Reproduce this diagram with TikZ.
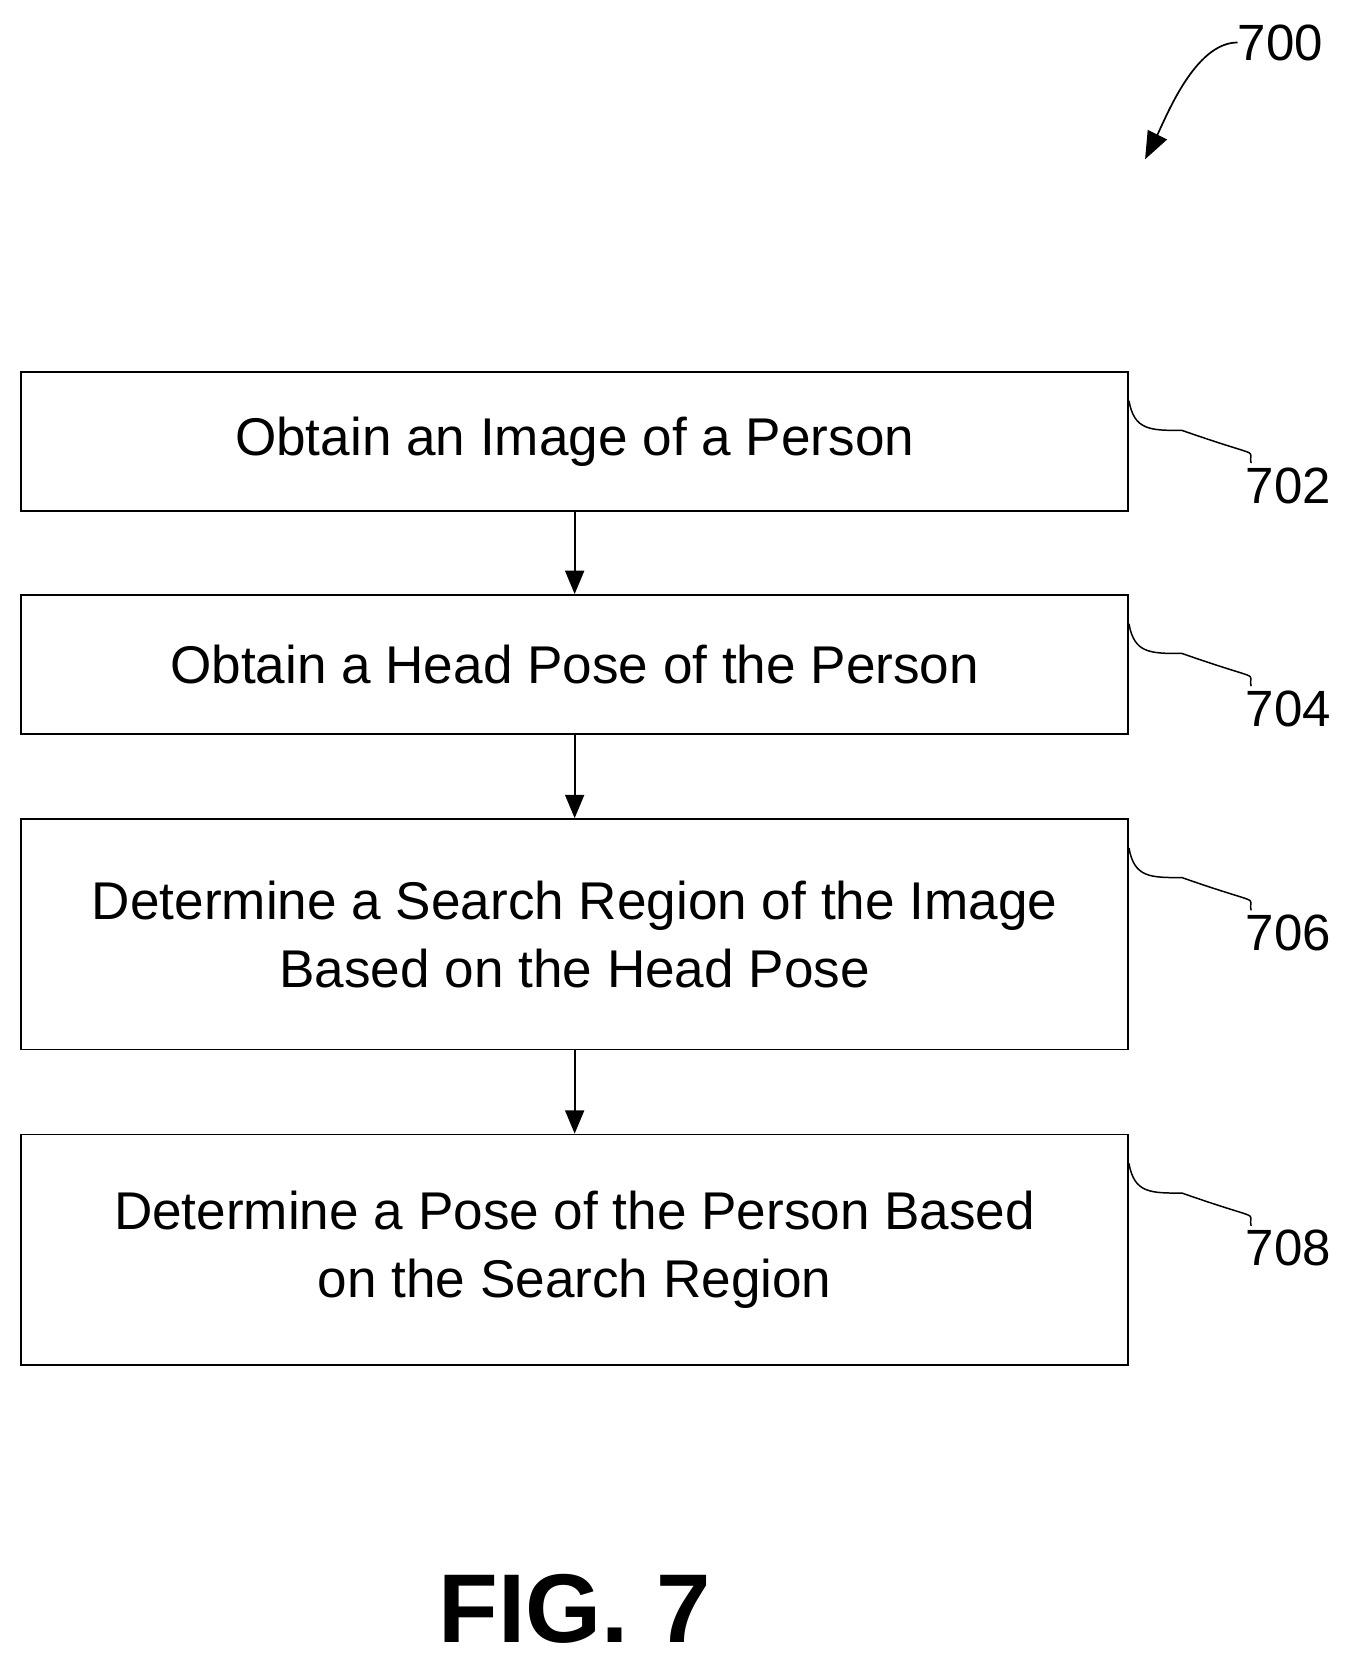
\documentclass[tikz,border=0pt]{standalone}
\usepackage{fontspec}
\setmainfont{Liberation Sans}
\usetikzlibrary{arrows.meta,positioning}
\tikzset{
  x=1pt, y=1pt,
  stepbox/.style = {
    draw,
    line width=1.6pt,
    minimum width=1042pt,
    align=center,
    font=\fontsize{50}{64}\selectfont
  },
  ref label/.style = {
    font=\fontsize{48}{52}\selectfont,
    inner sep=0pt
  },
  flow arrow/.style = {
    -{Triangle[length=22pt,width=18pt]},
    line width=1.6pt
  },
  squiggle/.style = {
    line width=1.4pt
  },
}
\begin{document}
\begin{tikzpicture}
  \useasboundingbox (0,0) rectangle (1280,-1575);
  %% boxes
  \node (b702) [stepbox, minimum height=131pt] at (541,-415.5) {Obtain an Image of a Person};
  \node (b704) [stepbox, minimum height=131pt] at (541,-625.5) {Obtain a Head Pose of the Person};
  \node (b706) [stepbox, minimum height=217pt] at (541,-879.5)
    {Determine a Search Region of the Image\\Based on the Head Pose};
  \node (b708) [stepbox, minimum height=217pt] at (541,-1176.5)
    {Determine a Pose of the Person Based\\on the Search Region};
  %% arrows
  \draw[flow arrow] (b702) -- (b704);
  \draw[flow arrow] (b704) -- (b706);
  \draw[flow arrow] (b706) -- (b708);
  %% reference labels
  \foreach \n in {702, 704, 706, 708} {
    \node (l\n) [ref label, anchor=west] at ([xshift=110pt,yshift=-108pt]b\n.north east) {\n};
    \draw[squiggle] ([yshift=-28pt]b\n.north east)
      .. controls +(5,-28) and +(-30,0) .. +(50,-28)
      .. controls +(80,-28) and +(-3,15) .. ([xshift=5pt,yshift=4pt]l\n.north west);
  }
  \node (l700) [ref label, anchor=west] at (1165,-40) {700};
  \coordinate (t700) at (1078,-150);
  \draw[line width=1.6pt, -{Triangle[length=26pt,width=20pt]}] (l700.west)
    .. controls +(-40,0) and +(20,40) .. (t700);
  %% figure title
  \node (fig) [font=\fontsize{92}{100}\selectfont\bfseries] at (541,-1515) {FIG. 7};
\end{tikzpicture}
\end{document}
